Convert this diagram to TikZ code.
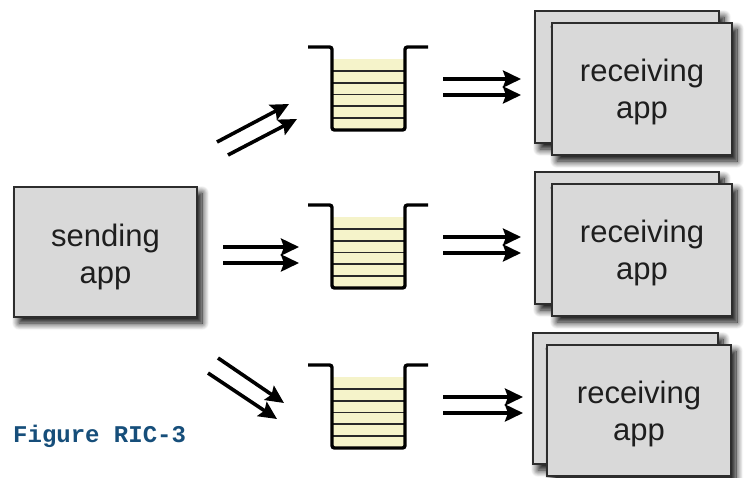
\documentclass[tikz,border=0pt]{standalone}
\usepackage{fontspec}
\setmainfont{Liberation Sans}
\newfontfamily\monobold{Liberation Mono}
\usetikzlibrary{arrows.meta,shadows.blur}
\definecolor{boxgray}{RGB}{217,217,217}
\definecolor{boxline}{RGB}{45,45,45}
\definecolor{qyellow}{RGB}{245,243,202}
\definecolor{stripe}{RGB}{40,40,40}
\definecolor{figblue}{RGB}{22,78,122}
\definecolor{txt}{RGB}{30,30,30}
\tikzset{
  app/.style={draw=boxline, line width=1.8pt, fill=boxgray, inner sep=0pt,
    blur shadow={shadow xshift=5pt, shadow yshift=-6pt, shadow blur steps=12,
      shadow blur radius=7pt, shadow opacity=100}},
  backapp/.style={app},
  lbl/.style={inner sep=0pt, font=\fontsize{31}{37}\selectfont, align=center, text=txt},
  qwall/.style={line width=3.4pt, draw=black, rounded corners=2.5pt},
  qstripe/.style={line width=1.8pt, draw=stripe},
  flow/.style={line width=3.6pt, -{Stealth[length=18pt, width=17pt, inset=3pt]}},
}
\newcommand{\queue}[2]{% name, rim y
  \fill[qyellow] (332,#2+12) rectangle (405,#2+83);
  \foreach \k in {1,...,5}{\draw[qstripe] (332,#2+12+\k*11.83) -- (405,#2+12+\k*11.83);}
  \draw[qwall] (308,#2) -- (332,#2) -- (332,#2+83) -- (405,#2+83) -- (405,#2) -- (428,#2);
  \coordinate (#1) at (368.5,#2+41.5);
}
\begin{document}
\begin{tikzpicture}[x=1pt,y=-1pt]
\useasboundingbox (0,0) rectangle (750,477);

% sending app
\node[app, minimum width=183pt, minimum height=130pt] (send) at (105.5,252) {};
\node[lbl] (sendt) at ([yshift=-5pt]send.center) {sending\\app};

% receiving apps (back, then front)
\node[backapp, minimum width=184pt, minimum height=132pt] (rb1) at (627,77) {};
\node[app, minimum width=180pt, minimum height=132pt] (r1) at (642,89) {};
\node[lbl] (r1t) at ([yshift=-3pt]r1.center) {receiving\\app};
\node[backapp, minimum width=184pt, minimum height=132pt] (rb2) at (627,238) {};
\node[app, minimum width=180pt, minimum height=132pt] (r2) at (642,250) {};
\node[lbl] (r2t) at ([yshift=-3pt]r2.center) {receiving\\app};
\node[backapp, minimum width=185pt, minimum height=131pt] (rb3) at (625.5,398.5) {};
\node[app, minimum width=184pt, minimum height=131pt] (r3) at (639,410.5) {};
\node[lbl] (r3t) at ([yshift=-3pt]r3.center) {receiving\\app};

% queues
\queue{q1}{47}
\queue{q2}{205}
\queue{q3}{365}

% arrow end points
\coordinate (a1s) at (217,142); \coordinate (a1e) at (289,104);
\coordinate (a2s) at (228,155); \coordinate (a2e) at (297,119);
\coordinate (b1s) at (223,247); \coordinate (b1e) at (299,247);
\coordinate (b2s) at (223,263); \coordinate (b2e) at (299,263);
\coordinate (c1s) at (218,358); \coordinate (c1e) at (284,403);
\coordinate (c2s) at (208,373); \coordinate (c2e) at (277,419);
\coordinate (d1s) at (443,79);  \coordinate (d1e) at (521,79);
\coordinate (d2s) at (443,95);  \coordinate (d2e) at (521,95);
\coordinate (e1s) at (443,237); \coordinate (e1e) at (521,237);
\coordinate (e2s) at (443,253); \coordinate (e2e) at (521,253);
\coordinate (f1s) at (443,397); \coordinate (f1e) at (523,397);
\coordinate (f2s) at (443,413); \coordinate (f2e) at (523,413);

\foreach \p in {a1,a2,b1,b2,c1,c2,d1,d2,e1,e2,f1,f2}
  \draw[flow] (\p s) -- (\p e);

% caption
\node[anchor=base west, inner sep=0pt, text=figblue,
  font=\monobold\bfseries\fontsize{24}{24}\selectfont] (cap) at (13,442) {Figure RIC-3};
\end{tikzpicture}
\end{document}
